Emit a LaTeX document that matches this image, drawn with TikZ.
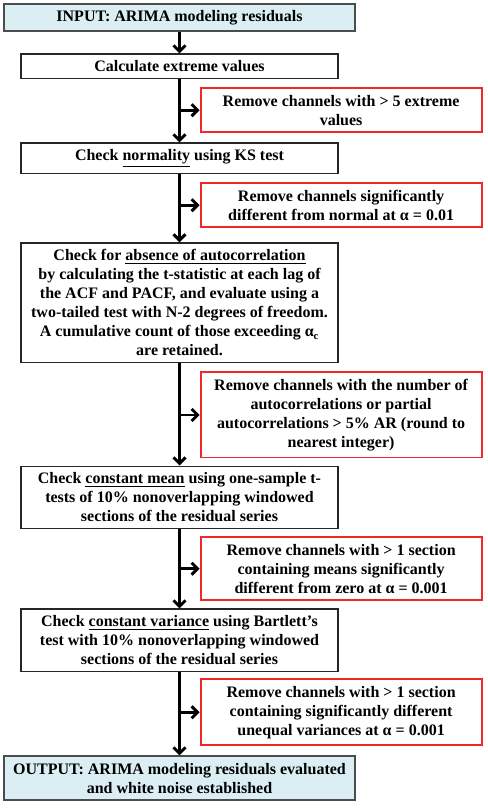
\documentclass[tikz,border=0pt]{standalone}
\usepackage{fontspec}
\setmainfont{Liberation Serif}
\usetikzlibrary{positioning,arrows.meta}
\definecolor{ioblue}{RGB}{219,238,244}
\definecolor{remred}{RGB}{240,40,40}

\begin{document}
\begin{tikzpicture}[
      font=\fontsize{12}{14.25}\selectfont\bfseries,
      stepbox/.style={draw=black!85,line width=1pt,align=center,minimum width=237.75pt,inner ysep=5pt},
      iobox/.style={stepbox,fill=ioblue,draw=black!70,line width=1.5pt,minimum width=263.25pt},
      rembox/.style={draw=remred,line width=1.4pt,align=center,minimum width=210.75pt,inner ysep=5pt},
      flow/.style={line width=2.2pt,-{Straight Barb[length=4.5pt,width=9pt]}}
    ]
        \useasboundingbox (0,0) rectangle (366pt,-608.25pt);
        \node[iobox] (input) at (134.625pt,-13.125pt) {INPUT: ARIMA modeling residuals};
        \node[stepbox, below=15.75pt of input] (extreme) {Calculate extreme values};
        \node[stepbox, below=47.25pt of extreme] (normal) {Check \underline{normality} using KS test};
        \node[stepbox, below=51pt of normal] (acf) {Check for \underline{absence of autocorrelation}\\
            by calculating the t-statistic at each lag of\\
            the ACF and PACF, and evaluate using a\\
            two-tailed test with N-2 degrees of freedom.\\
            A cumulative count of those exceeding α\textsubscript{c}\\
            are retained.};
        \node[stepbox, below=76.5pt of acf] (mean) {Check \underline{constant mean} using one-sample t-\\
            tests of 10\% nonoverlapping windowed\\
            sections of the residual series};
        \node[stepbox, below=59.25pt of mean] (variance) {Check \underline{constant variance} using Bartlett’s\\
            test with 10\% nonoverlapping windowed\\
            sections of the residual series};
        \node[iobox, below=62.25pt of variance] (output) {OUTPUT: ARIMA modeling residuals evaluated\\
            and white noise established};
        % removal criteria
        \node[rembox, below right=6pt and -104.25pt of extreme.south east] (rem1) {Remove channels with > 5 extreme\\values};
        \node[rembox, below right=6pt and -104.25pt of normal.south east] (rem2) {Remove channels significantly\\different from normal at α = 0.01};
        \node[rembox, below right=6pt and -104.25pt of acf.south east] (rem3) {Remove channels with the number of\\
            autocorrelations or partial\\
            autocorrelations > 5\% AR (round to\\
            nearest integer)};
        \node[rembox, below right=5.25pt and -104.25pt of mean.south east] (rem4) {Remove channels with > 1 section\\
            containing means significantly\\
            different from zero at α = 0.001};
        \node[rembox, below right=4.5pt and -104.25pt of variance.south east] (rem5) {Remove channels with > 1 section\\
            containing significantly different\\
            unequal variances at α = 0.001};
        \coordinate (b1) at (extreme.south |- rem1.west);
        \coordinate (b2) at (normal.south |- rem2.west);
        \coordinate (b3) at (acf.south |- rem3.west);
        \coordinate (b4) at (mean.south |- rem4.west);
        \coordinate (b5) at (variance.south |- rem5.west);
        \path (input) edge[flow] (extreme)
              (extreme) edge[flow] (normal)
              (normal) edge[flow] (acf)
              (acf) edge[flow] (mean)
              (mean) edge[flow] (variance)
              (variance) edge[flow] (output);
        \path (b1) edge[flow] (rem1)
              (b2) edge[flow] (rem2)
              (b3) edge[flow] (rem3)
              (b4) edge[flow] (rem4)
              (b5) edge[flow] (rem5);
    \end{tikzpicture}
\end{document}
